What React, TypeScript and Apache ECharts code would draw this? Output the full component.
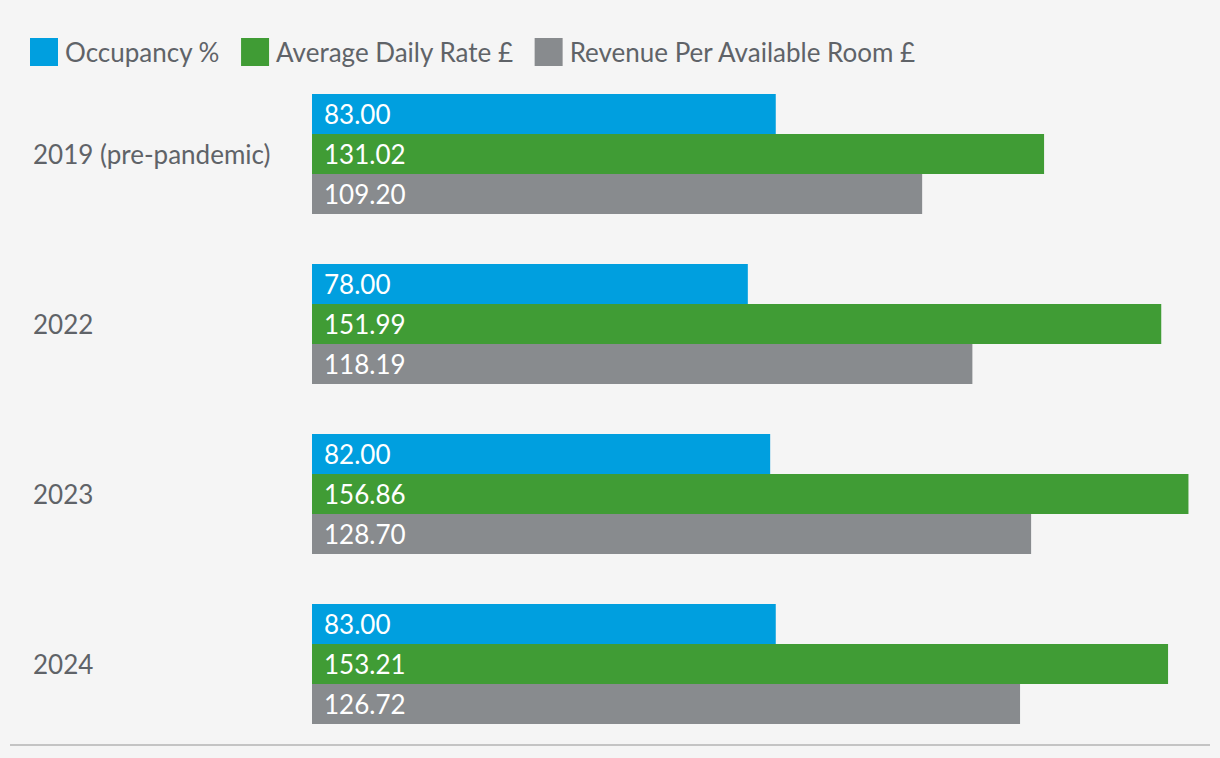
import React, { useEffect, useRef } from "react";
import * as echarts from "echarts";

const categories = ["2019 (pre-pandemic)", "2022", "2023", "2024"];
const occupancy = [83.0, 78.0, 82.0, 83.0];
const adr = [131.02, 151.99, 156.86, 153.21];
const revpar = [109.2, 118.19, 128.7, 126.72];
const seriesNames = ["Occupancy %", "Average Daily Rate £", "Revenue Per Available Room £"];
const colors = ["#009fdf", "#409c35", "#888b8e"];

const FONT = "Lato";

export default function App() {
  const ref = useRef<HTMLDivElement>(null);
  useEffect(() => {
    if (!ref.current) return;
    const chart = echarts.init(ref.current, null, { renderer: "svg" });
    const data = [occupancy, adr, revpar];
    chart.setOption({
      animation: false,
      backgroundColor: "#f5f5f5",
      textStyle: { fontFamily: FONT },
      legend: {
        left: 30,
        top: 38,
        padding: 0,
        itemWidth: 28,
        itemHeight: 28,
        itemGap: 21,
        icon: "rect",
        textStyle: { fontSize: 26, color: "#5f6368", fontFamily: FONT, padding: [0, 0, 0, 2] },
        data: seriesNames,
      },
      grid: { left: 312, right: 14, top: 69, height: 680 },
      xAxis: {
        type: "value",
        min: 0,
        max: 160,
        show: false,
      },
      yAxis: {
        type: "category",
        data: categories,
        inverse: true,
        axisLine: { show: false },
        axisTick: { show: false },
        axisLabel: {
          align: "left",
          margin: 279,
          fontSize: 26,
          color: "#5f6368",
          fontFamily: FONT,
        },
      },
      graphic: [
        {
          type: "line",
          shape: { x1: 10, y1: 745, x2: 1210, y2: 745 },
          style: { stroke: "#c4c4c4", lineWidth: 2 },
        },
      ],
      series: seriesNames.map((name, i) => ({
        name,
        type: "bar",
        data: data[i],
        barWidth: 40,
        barGap: "0%",
        barCategoryGap: "29.4%",
        itemStyle: { color: colors[i] },
        label: {
          show: true,
          position: "insideLeft",
          distance: 12,
          color: "#ffffff",
          fontSize: 26,
          fontFamily: FONT,
          formatter: (p: any) => Number(p.value).toFixed(2),
        },
      })),
    });
    return () => chart.dispose();
  }, []);
  return <div ref={ref} style={{ width: 1220, height: 758, position: "fixed", left: 0, top: 0 }} />;
}
